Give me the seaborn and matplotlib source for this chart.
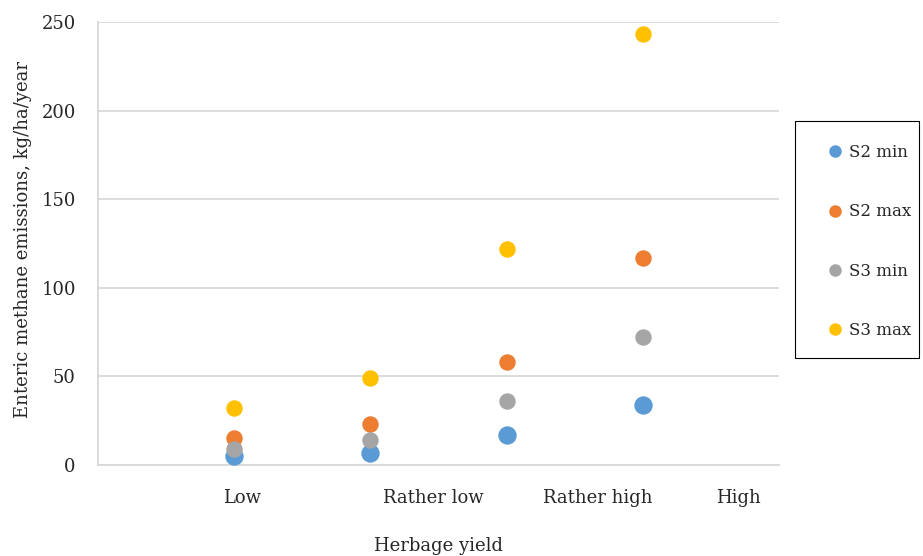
import pandas as pd
import matplotlib.pyplot as plt
import seaborn as sns
from matplotlib.lines import Line2D
from matplotlib.patches import Rectangle

# Datos
categories = ['Low', 'Rather low', 'Rather high', 'High']
s2_min = [5, 7, 17, 34]
s2_max = [15, 23, 58, 117]
s3_min = [9, 14, 36, 72]
s3_max = [32, 49, 122, 243]

series_names = ['S2 min', 'S2 max', 'S3 min', 'S3 max']
series_values = [s2_min, s2_max, s3_min, s3_max]
colors = ['#5B9BD5', '#ED7D31', '#A5A5A5', '#FFC000']
sizes = [175, 140, 140, 140]

# Tabla larga para seaborn (x = posicion 1..4 de cada categoria)
rows = []
for name, vals in zip(series_names, series_values):
    for i, v in enumerate(vals):
        rows.append({'x': i + 1, 'y': v, 'serie': name})
data = pd.DataFrame(rows)

sns.set_style('white')
plt.rcParams['font.family'] = ['DejaVu Serif']

fig = plt.figure(figsize=(9.23, 5.56), dpi=100)
ax = fig.add_axes([98 / 923, 1 - 465 / 556, 681 / 923, 443 / 556])

# Puntos de cada serie
for name, col, s in zip(series_names, colors, sizes):
    sns.scatterplot(data=data[data['serie'] == name], x='x', y='y',
                    color=col, s=s, linewidth=0, ax=ax, zorder=3)

ax.set_xlim(0, 5)
ax.set_ylim(0, 250)
ax.set_yticks(range(0, 251, 50))
ax.tick_params(axis='y', labelsize=13, length=0, pad=16)
ax.grid(axis='y', color='#D9D9D9', linewidth=1.3)
ax.set_axisbelow(True)

# Etiquetas de categoria (desplazadas como en el original)
ax.set_xticks([1.057, 2.46, 3.67, 4.70])
ax.set_xticklabels(categories, fontsize=13)
ax.tick_params(axis='x', length=0, pad=17)

for side in ['top', 'right']:
    ax.spines[side].set_visible(False)
ax.spines['left'].set_color('#D9D9D9')
ax.spines['bottom'].set_color('#D9D9D9')
ax.spines['left'].set_linewidth(1.3)
ax.spines['bottom'].set_linewidth(1.3)

ax.set_xlabel('Herbage yield', fontsize=13)
ax.set_ylabel('Enteric methane emissions, kg/ha/year', fontsize=13)
ax.xaxis.set_label_coords(0.50, -0.162)
ax.yaxis.set_label_coords(-0.097, 0.508)

# Leyenda con marco propio
handles = [Line2D([0], [0], marker='o', color='w', markerfacecolor=c,
                  markeredgewidth=0, markersize=9, label=n)
           for n, c in zip(series_names, colors)]
fig.legend(handles=handles, loc='upper left', bbox_to_anchor=(818 / 923, 1 - 136 / 556),
           frameon=False, fontsize=12, handlelength=1.0, handletextpad=0.35,
           labelspacing=2.53, borderpad=0)
fig.patches.append(Rectangle((795 / 923, 1 - 358 / 556), 124 / 923, 237 / 556,
                             transform=fig.transFigure, fill=False,
                             edgecolor='black', linewidth=0.8))

fig.savefig('out.png', dpi=100)
